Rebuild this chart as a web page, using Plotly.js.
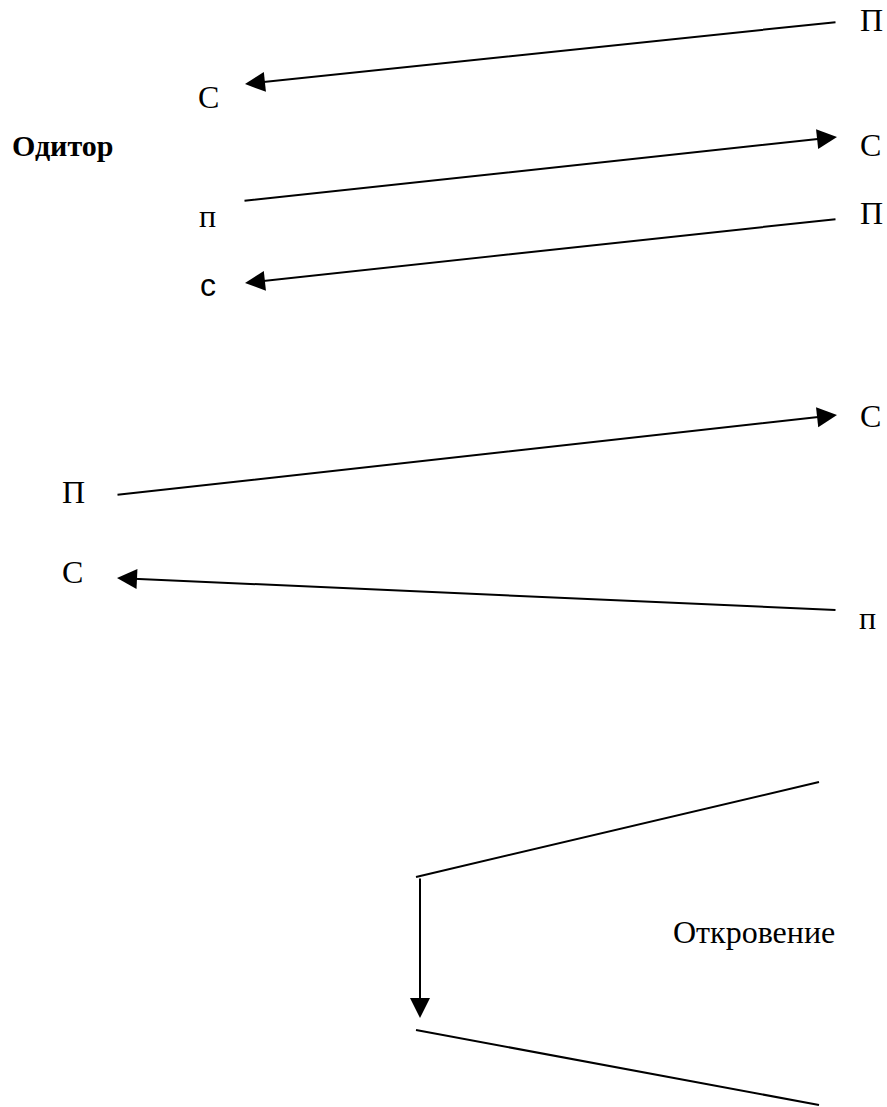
<!DOCTYPE html>
<html>
<head>
<meta charset="utf-8">
<script src="https://cdn.plot.ly/plotly-3.0.1.min.js"></script>
<style>html,body{margin:0;padding:0;background:#fff;}#chart{width:887px;height:1107px;}</style>
</head>
<body>
<div id="chart"></div>
<script>
// Arrow connections (tail -> head), in diagram pixel units
var arrowTailX = [837, 243, 837, 116, 837, 420];
var arrowTailY = [22, 201, 219, 495, 610, 877];
var arrowHeadX = [245, 837, 245, 837, 117, 420];
var arrowHeadY = [84, 137, 283, 415, 578, 1018];

// Plain connecting lines (no arrowhead)
var lineStartX = [416, 416];
var lineStartY = [877, 1030];
var lineEndX = [819, 819];
var lineEndY = [782, 1105];

// Letter labels
var labelText = ["П", "С", "С", "п", "П", "с", "С", "П", "С", "п"];
var labelX = [871, 208, 870, 207, 871, 208, 870, 73, 72, 867];
var labelY = [20, 97, 145, 216, 213, 285, 416, 492, 572, 618];
var labelFont = ["serif", "serif", "serif", "serif", "serif", "sans", "serif", "serif", "serif", "serif"];

var titleText = "Одитор";
var titleX = 10, titleY = 145;
var noteText = "Откровение";
var noteX = 671, noteY = 932;

var serif = "'Liberation Serif', 'Times New Roman', serif";
var sans = "'Liberation Sans', Arial, sans-serif";

var annotations = [];
for (var i = 0; i < arrowTailX.length; i++) {
  annotations.push({
    x: arrowHeadX[i], y: arrowHeadY[i], xref: "x", yref: "y",
    ax: arrowTailX[i], ay: arrowTailY[i], axref: "x", ayref: "y",
    text: "", showarrow: true, arrowhead: 2, arrowsize: 2, arrowwidth: 2,
    arrowcolor: "#000", standoff: 0, startstandoff: 0
  });
}
for (var j = 0; j < labelText.length; j++) {
  annotations.push({
    x: labelX[j], y: labelY[j], xref: "x", yref: "y", showarrow: false,
    text: labelText[j], xanchor: "center", yanchor: "middle",
    font: {family: labelFont[j] === "sans" ? sans : serif, size: 32, color: "#000"}
  });
}
annotations.push({
  x: titleX, y: titleY, xref: "x", yref: "y", showarrow: false,
  text: "<b>" + titleText + "</b>", xanchor: "left", yanchor: "middle",
  font: {family: serif, size: 30, color: "#000"}
});
annotations.push({
  x: noteX, y: noteY, xref: "x", yref: "y", showarrow: false,
  text: noteText, xanchor: "left", yanchor: "middle",
  font: {family: serif, size: 32, color: "#000"}
});

var traces = [];
for (var k = 0; k < lineStartX.length; k++) {
  traces.push({
    x: [lineStartX[k], lineEndX[k]], y: [lineStartY[k], lineEndY[k]],
    mode: "lines", type: "scatter", line: {color: "#000", width: 2},
    hoverinfo: "skip", showlegend: false
  });
}

var layout = {
  width: 887, height: 1107,
  margin: {l: 0, r: 0, t: 0, b: 0},
  paper_bgcolor: "#fff", plot_bgcolor: "#fff",
  xaxis: {range: [0, 887], visible: false, fixedrange: true},
  yaxis: {range: [1107, 0], visible: false, fixedrange: true},
  showlegend: false,
  annotations: annotations
};

Plotly.newPlot("chart", traces, layout, {displayModeBar: false, staticPlot: true});
</script>
</body>
</html>
